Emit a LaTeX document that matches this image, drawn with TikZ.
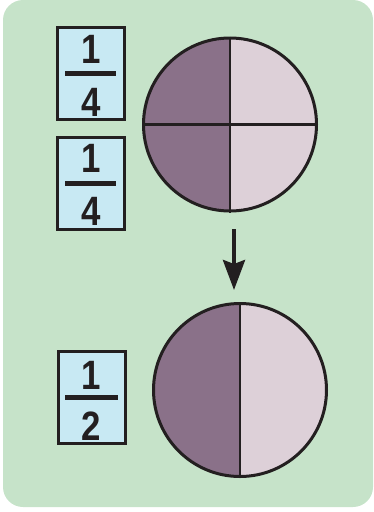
\documentclass[tikz,border=0pt]{standalone}
\usepackage{fontspec}
\setmainfont{Liberation Sans}
\usetikzlibrary{arrows.meta}
\definecolor{bggreen}{HTML}{C6E3C9}
\definecolor{boxblue}{HTML}{C8E9F3}
\definecolor{darkpurple}{HTML}{8A7189}
\definecolor{lightpink}{HTML}{DDD0D8}
\definecolor{ink}{HTML}{231F20}
\tikzset{
  fracbox/.style={draw=ink, line width=3pt, fill=boxblue, minimum width=67pt, minimum height=92pt, inner sep=0pt},
  digit/.style={inner sep=0pt, text=ink, font=\fontsize{41}{41}\selectfont},
  fracbar/.style={draw=ink, line width=5pt},
  pie/.style={circle, draw=ink, line width=3pt, inner sep=0pt, minimum size=173pt},
  divider/.style={draw=ink, line width=2.8pt},
  bigarrow/.style={draw=ink, line width=4pt, -{Stealth[length=30pt,width=22pt,inset=4pt]}}
}
\newcommand{\dg}[1]{\scalebox{0.85}[1]{\bfseries #1}}
\begin{document}
\begin{tikzpicture}[x=1pt,y=-1pt]
\useasboundingbox (0,0) rectangle (373,512);
\fill[bggreen, rounded corners=20pt] (3,0) rectangle (373,507);

% fraction boxes
\node[fracbox] (b1) at (90.7,73.5) {};
\node[digit] (n1) at ([yshift=24.5pt]b1.center) {\dg{1}};
\draw[fracbar] ([xshift=-25.5pt]b1.center) -- ([xshift=25.5pt]b1.center);
\node[digit] (d1) at ([yshift=-28.5pt]b1.center) {\dg{4}};

\node[fracbox] (b2) at (90.7,183) {};
\node[digit] (n2) at ([yshift=24.5pt]b2.center) {\dg{1}};
\draw[fracbar] ([xshift=-25.5pt]b2.center) -- ([xshift=25.5pt]b2.center);
\node[digit] (d2) at ([yshift=-28.5pt]b2.center) {\dg{4}};

\node[fracbox] (b3) at (91.5,397.5) {};
\node[digit] (n3) at ([yshift=22pt]b3.center) {\dg{1}};
\draw[fracbar] ([xshift=-26.5pt]b3.center) -- ([xshift=26.5pt]b3.center);
\node[digit] (d3) at ([yshift=-28.5pt]b3.center) {\dg{2}};

% circle 1 (quarters)
\coordinate (o1) at (230,124.5);
\begin{scope}
  \clip (o1) circle[radius=86.5pt];
  \fill[darkpurple] ([xshift=-90pt,yshift=-90pt]o1) rectangle ([yshift=90pt]o1);
  \fill[lightpink] ([yshift=-90pt]o1) rectangle ([xshift=90pt,yshift=90pt]o1);
\end{scope}
\node[pie] (c1) at (o1) {};
\draw[divider] (c1.north) -- (c1.south);
\draw[divider] (c1.west) -- (c1.east);

% arrow
\coordinate (astart) at (234,229);
\coordinate (atip) at (234,290);
\draw[bigarrow] (astart) -- (atip);

% circle 2 (halves)
\coordinate (o2) at (240,390);
\begin{scope}
  \clip (o2) circle[radius=86.5pt];
  \fill[darkpurple] ([xshift=-90pt,yshift=-90pt]o2) rectangle ([yshift=90pt]o2);
  \fill[lightpink] ([yshift=-90pt]o2) rectangle ([xshift=90pt,yshift=90pt]o2);
\end{scope}
\node[pie] (c2) at (o2) {};
\draw[divider] (c2.north) -- (c2.south);
\end{tikzpicture}
\end{document}
